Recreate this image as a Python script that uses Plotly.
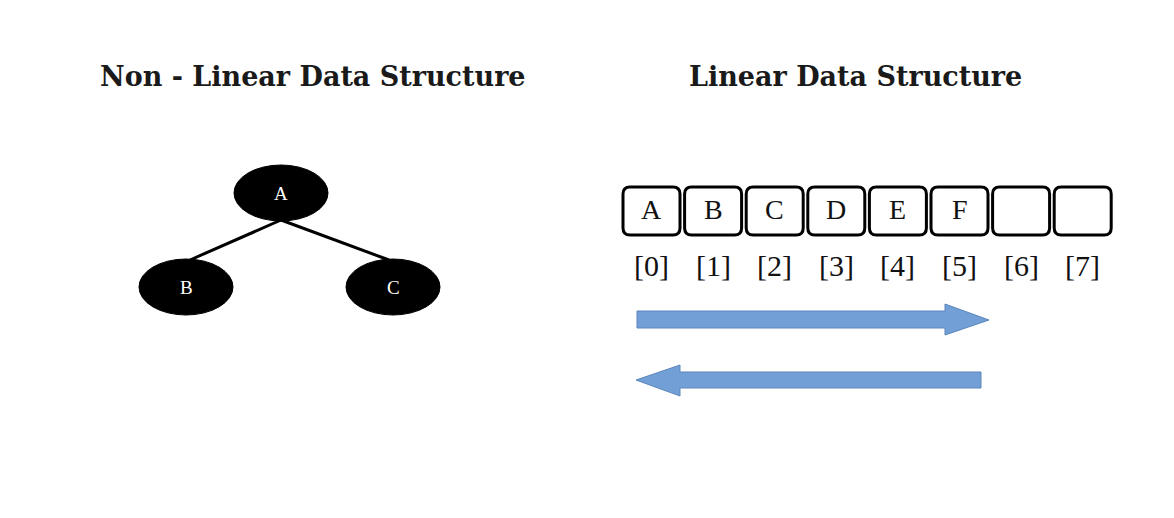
import plotly.graph_objects as go

W, H = 1174, 518
OFF = 8  # page margin offset

# tree nodes
node_labels = ["A", "B", "C"]
node_x = [281, 186, 393]
node_y = [193, 287, 287]
edges = [(0, 1), (0, 2)]

# array cells
cell_labels = ["A", "B", "C", "D", "E", "F", "", ""]
index_labels = ["[0]", "[1]", "[2]", "[3]", "[4]", "[5]", "[6]", "[7]"]
cell_left0 = 623
cell_step = 61.6
cell_w = 57
cell_top, cell_bot = 187, 235

arrow_fill = "#729fd6"
arrow_line = "#5b86bb"


def rounded_rect(x0, y0, x1, y1, r):
    return (f"M {x0+r},{y0} L {x1-r},{y0} Q {x1},{y0} {x1},{y0+r} "
            f"L {x1},{y1-r} Q {x1},{y1} {x1-r},{y1} L {x0+r},{y1} "
            f"Q {x0},{y1} {x0},{y1-r} L {x0},{y0+r} Q {x0},{y0} {x0+r},{y0} Z")


fig = go.Figure()
shapes = []
annotations = []

# titles
annotations.append(dict(x=313, y=76, text="<b>Non - Linear Data Structure</b>",
                        showarrow=False, font=dict(family="DejaVu Serif", size=27, color="#1a1a1a")))
annotations.append(dict(x=855, y=76, text="<b>Linear Data Structure</b>",
                        showarrow=False, font=dict(family="DejaVu Serif", size=27, color="#1a1a1a")))

# tree edges
for a, b in edges:
    shapes.append(dict(type="line", x0=node_x[a], y0=node_y[a] + 27,
                       x1=node_x[b] + (4 if b == 1 else -4), y1=node_y[b] - 27,
                       line=dict(color="black", width=3), layer="below"))
# tree nodes
for lbl, x, y in zip(node_labels, node_x, node_y):
    shapes.append(dict(type="circle", x0=x - 47, x1=x + 47, y0=y - 28, y1=y + 28,
                       fillcolor="black", line=dict(color="black", width=1)))
    annotations.append(dict(x=x, y=y, text=lbl, showarrow=False,
                            font=dict(family="Liberation Serif", size=19, color="white")))

# array cells
for i, (lbl, idx) in enumerate(zip(cell_labels, index_labels)):
    x0 = cell_left0 + cell_step * i
    shapes.append(dict(type="path", path=rounded_rect(x0, cell_top, x0 + cell_w, cell_bot, 7),
                       line=dict(color="black", width=3), fillcolor="white"))
    cx = x0 + cell_w / 2
    annotations.append(dict(x=cx, y=cell_top - 2 + (cell_bot - cell_top) / 2, text=lbl, showarrow=False,
                            font=dict(family="Liberation Serif", size=28, color="#111")))
    annotations.append(dict(x=cx, y=265, text=idx, showarrow=False,
                            font=dict(family="Liberation Serif", size=30, color="#111")))

# arrows
right_arrow = "M 637,311 L 945,311 L 945,304 L 989,320 L 945,335 L 945,328 L 637,328 Z"
left_arrow = "M 981,372 L 680,372 L 680,365 L 636,380 L 680,396 L 680,388 L 981,388 Z"
for p in (right_arrow, left_arrow):
    shapes.append(dict(type="path", path=p, fillcolor=arrow_fill, line=dict(color=arrow_line, width=1)))

fig.add_trace(go.Scatter(x=[0, W], y=[0, H], mode="markers", marker=dict(opacity=0),
                         hoverinfo="skip", showlegend=False))
fig.update_layout(width=W, height=H, margin=dict(l=0, r=0, t=0, b=0),
                  plot_bgcolor="white", paper_bgcolor="white",
                  shapes=shapes, annotations=annotations, showlegend=False)
fig.update_xaxes(range=[OFF, W + OFF], visible=False)
fig.update_yaxes(range=[H + OFF, OFF], visible=False)
fig.write_html("out.html")
